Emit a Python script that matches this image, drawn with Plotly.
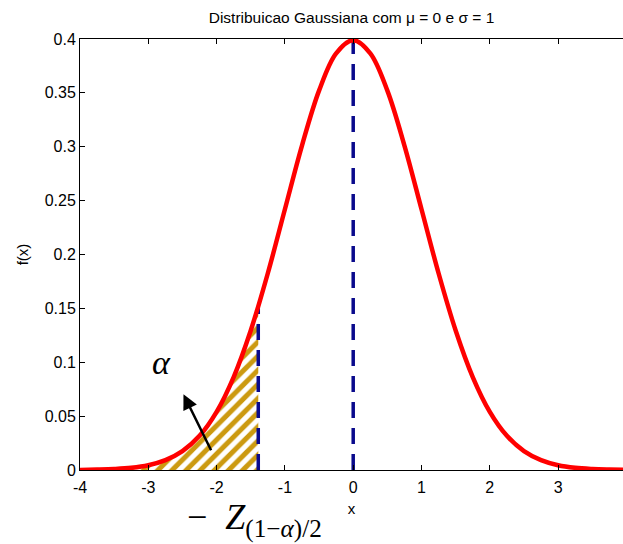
import plotly.graph_objects as go

# Values (standard normal density)
x_vals = [-4.0, -3.75, -3.5, -3.25, -3.0, -2.75, -2.5, -2.25, -2.0, -1.75, -1.5, -1.25,
          -1.0, -0.75, -0.5, -0.25, 0.0, 0.25, 0.5, 0.75, 1.0, 1.25, 1.5, 1.75, 2.0,
          2.25, 2.5, 2.75, 3.0, 3.25, 3.5, 3.75, 4.0]
fx_vals = [0.0001, 0.0004, 0.0009, 0.002, 0.0044, 0.0091, 0.0175, 0.0317, 0.054, 0.0863,
           0.1295, 0.1826, 0.242, 0.3011, 0.3521, 0.3867, 0.3989, 0.3867, 0.3521, 0.3011,
           0.242, 0.1826, 0.1295, 0.0863, 0.054, 0.0317, 0.0175, 0.0091, 0.0044, 0.002,
           0.0009, 0.0004, 0.0001]

# Shaded tail (alpha region) up to -z
tail_x = [-4.0, -3.75, -3.5, -3.25, -3.0, -2.75, -2.5, -2.25, -2.0, -1.75, -1.5, -1.39]
tail_y = [0.0001, 0.0004, 0.0009, 0.002, 0.0044, 0.0091, 0.0175, 0.0317, 0.054, 0.0863,
          0.1295, 0.1518]

# Vertical dashed markers
mean_x = 0.0
mean_top = 0.3989
z_x = -1.39
z_top = 0.1518

# Arrow (tail -> head) and alpha label position
arrow_tail = (-2.07, 0.017)
arrow_head = (-2.485, 0.0703)
alpha_pos = (-2.80, 0.100)

x_ticks = [-4, -3, -2, -1, 0, 1, 2, 3]
y_ticks = [0, 0.05, 0.1, 0.15, 0.2, 0.25, 0.3, 0.35, 0.4]
y_tick_text = ["0", "0.05", "0.1", "0.15", "0.2", "0.25", "0.3", "0.35", "0.4"]

fig = go.Figure()

fig.add_trace(go.Scatter(
    x=tail_x, y=tail_y, mode="lines", line=dict(width=0, shape="spline"),
    fill="tozeroy", fillcolor="rgba(0,0,0,0)",
    fillpattern=dict(shape="/", fgcolor="#CC9A10", fgopacity=1, bgcolor="white",
                     size=10, solidity=0.5),
    hoverinfo="skip", showlegend=False))

for xv, top in [(mean_x, mean_top), (z_x, z_top)]:
    fig.add_trace(go.Scatter(
        x=[xv, xv], y=[0, top], mode="lines",
        line=dict(color="#0A0A8C", width=3.5, dash="16px,10px"),
        showlegend=False, hoverinfo="skip"))

fig.add_trace(go.Scatter(
    x=x_vals, y=fx_vals, mode="lines",
    line=dict(color="#FF0000", width=4.5, shape="spline"),
    showlegend=False, cliponaxis=False))

fig.add_annotation(
    x=arrow_head[0], y=arrow_head[1], ax=arrow_tail[0], ay=arrow_tail[1],
    xref="x", yref="y", axref="x", ayref="y", text="", showarrow=True,
    arrowhead=2, arrowsize=1.2, arrowwidth=2.5, arrowcolor="black")

fig.add_annotation(
    x=alpha_pos[0], y=alpha_pos[1], xref="x", yref="y", text="<i>α</i>",
    showarrow=False, font=dict(family="Liberation Serif", size=34, color="black"))

fig.add_annotation(
    x=-1.45, y=-0.059, xref="x", yref="paper", yanchor="top",
    text="−  <i>Z</i><sub>(1−<i>α</i>)/2</sub>",
    showarrow=False, font=dict(family="Liberation Serif", size=36, color="black"))

fig.update_layout(
    width=623, height=544,
    margin=dict(l=80, r=0, t=39, b=74),
    plot_bgcolor="white", paper_bgcolor="white",
    font=dict(family="Liberation Sans, Arial", size=16, color="black"),
    title=dict(text="Distribuicao Gaussiana com μ = 0 e σ = 1", x=0.5, xanchor="center",
               xref="paper", y=0.967, yanchor="middle",
               font=dict(family="Liberation Sans, Arial", size=15.5, color="black")),
    showlegend=False,
)

fig.update_xaxes(
    range=[-4, 3.95], tickvals=x_ticks, ticktext=[str(v) for v in x_ticks],
    ticks="inside", ticklen=5, tickcolor="black", showline=True, linecolor="black",
    linewidth=1, mirror="ticks", showgrid=False, zeroline=False, ticklabelstandoff=3,
    title=dict(text="x", font=dict(size=15), standoff=8))

fig.update_yaxes(
    range=[0, 0.4], tickvals=y_ticks, ticktext=y_tick_text,
    ticks="inside", ticklen=5, tickcolor="black", showline=True, linecolor="black",
    linewidth=1, showgrid=False, zeroline=False,
    title=dict(text="f(x)", font=dict(size=15), standoff=12))

fig.write_html("out.html")
